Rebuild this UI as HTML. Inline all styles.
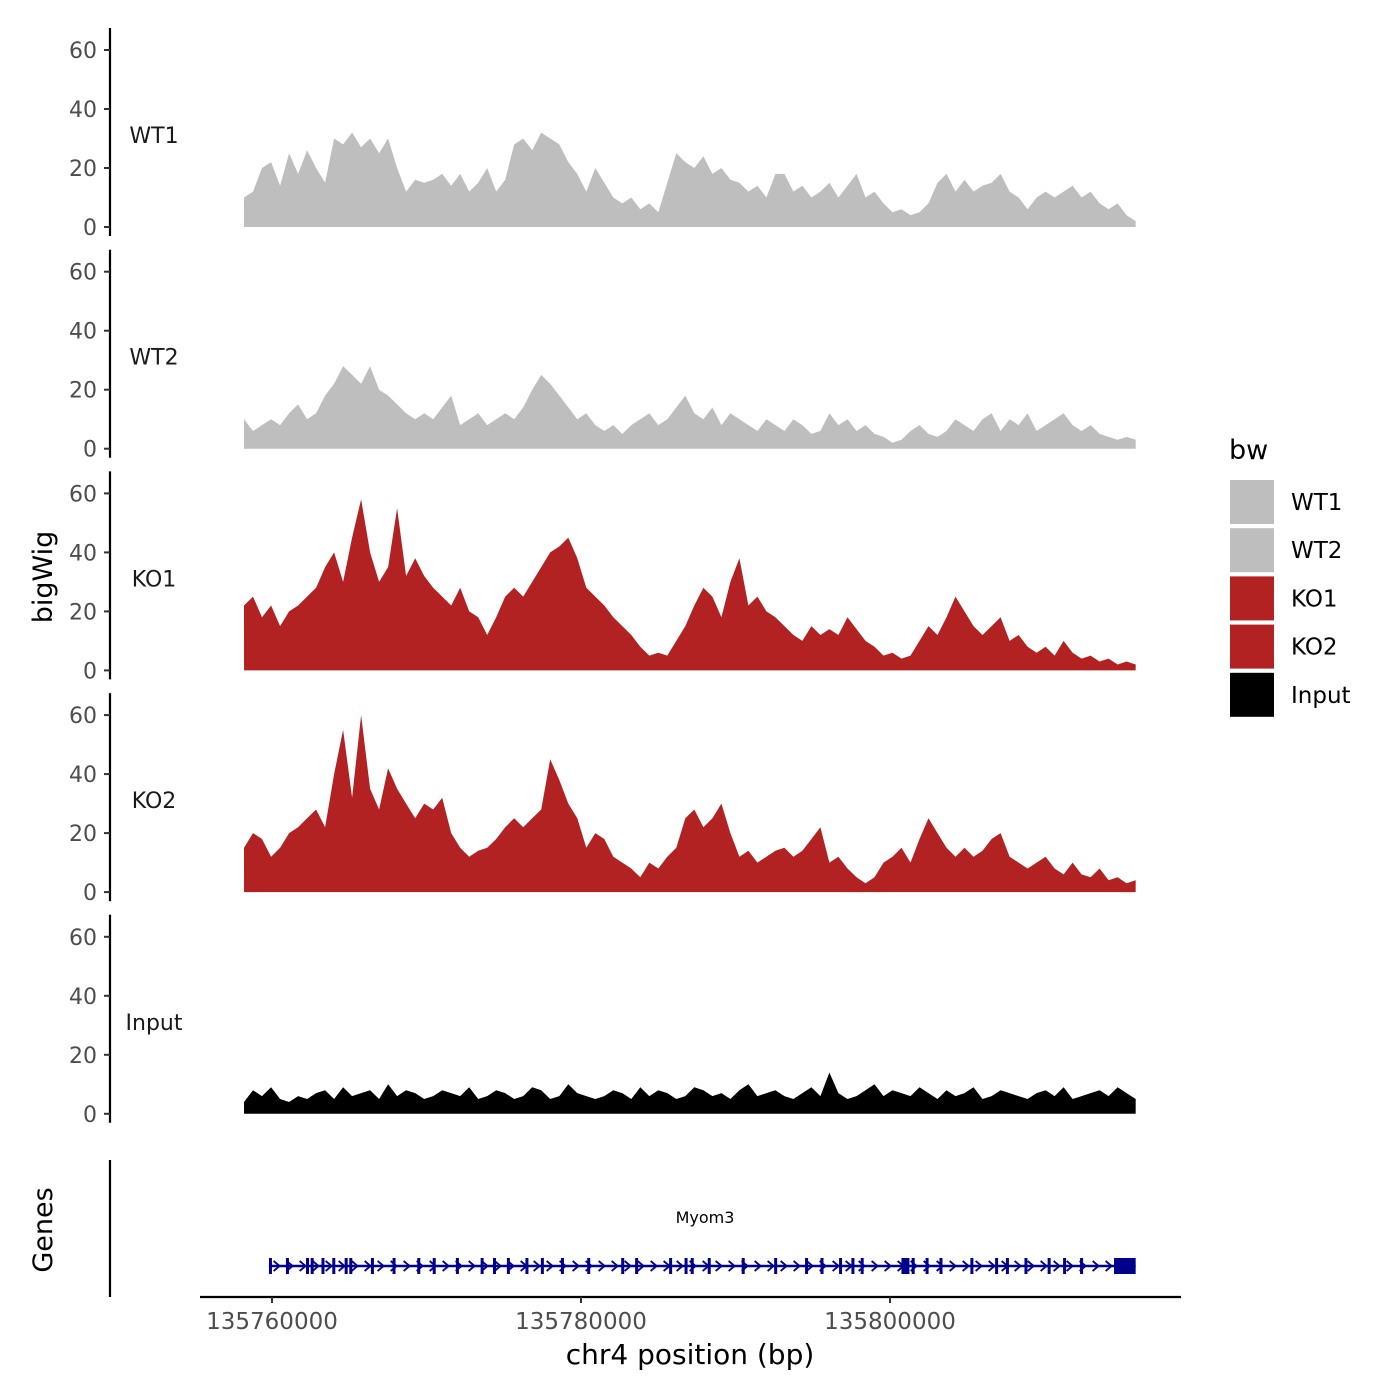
<!DOCTYPE html>
<html><head><meta charset="utf-8"><style>
body{margin:0;background:#fff}
svg{display:block;font-family:"DejaVu Sans","Liberation Sans",sans-serif}
</style></head><body>
<svg id="c" width="1400" height="1400" viewBox="0 0 1400 1400"></svg>
<script>
const tracks=["WT1","WT2","KO1","KO2","Input"];
const colors=["#bebebe","#bebebe","#b22222","#b22222","#000000"];
const yTicks=[0,20,40,60];
const xTicks=[135760000,135780000,135800000];
const xStart=135758190, xEnd=135815900;
const wt1=[10,12,20,22,14,25,18,26,20,15,30,28,32,27,30,25,30,20,12,16,15,16,18,14,18,12,15,20,12,16,28,30,26,32,30,28,22,18,12,20,15,10,8,10,6,8,5,15,25,22,20,24,18,20,16,15,12,14,10,18,18,12,14,10,12,15,10,14,18,10,12,8,5,6,4,5,8,15,18,12,16,12,14,15,18,12,10,6,10,12,10,12,14,10,12,8,6,8,4,2];
const wt2=[10,6,8,10,8,12,15,10,12,18,22,28,25,22,28,20,18,15,12,10,12,10,14,18,8,10,12,8,10,12,10,14,20,25,22,18,14,10,12,8,6,8,5,8,10,12,8,10,14,18,12,10,14,8,12,10,8,6,10,8,6,10,8,5,6,12,8,10,6,8,5,4,2,3,6,8,5,4,6,10,8,6,10,12,6,10,8,12,6,8,10,12,8,6,8,5,4,3,4,3];
const ko1=[22,25,18,22,15,20,22,25,28,35,40,30,45,58,40,30,35,55,32,38,32,28,25,22,28,20,18,12,18,25,28,25,30,35,40,42,45,38,28,25,22,18,15,12,8,5,6,5,10,15,22,28,25,18,30,38,22,25,20,18,15,12,10,15,12,14,12,18,14,10,8,5,6,4,5,10,15,12,18,25,20,15,12,15,18,10,12,8,6,8,5,10,6,4,5,3,4,2,3,2];
const ko2=[15,20,18,12,15,20,22,25,28,22,40,55,32,60,35,28,42,35,30,25,30,28,32,20,15,12,14,15,18,22,25,22,25,28,45,38,30,25,15,20,18,12,10,8,5,10,8,12,15,25,28,22,25,30,20,12,14,10,12,14,15,12,14,18,22,10,12,8,5,3,5,10,12,15,10,18,25,20,15,12,15,12,14,18,20,12,10,8,10,12,8,6,10,6,5,8,4,5,3,4];
const inp=[4,8,6,9,5,4,6,5,7,8,5,9,6,7,8,5,10,6,8,7,5,6,8,7,6,9,5,6,8,7,5,6,9,8,5,6,10,7,6,5,6,8,7,5,9,6,8,7,5,6,9,8,6,7,5,8,10,6,7,8,6,5,7,9,6,14,7,5,6,8,10,6,8,7,6,9,7,5,8,6,7,9,5,6,8,7,6,5,7,8,6,9,5,6,7,8,6,9,7,5];
const series=[wt1,wt2,ko1,ko2,inp];
const exons=[135759900,135761000,135762300,135762600,135763300,135764000,135764800,135765100,135766500,135767900,135769500,135770500,135772000,135773600,135774400,135775300,135776500,135777500,135778800,135780500,135782700,135783600,135785800,135786800,135787200,135788300,135790500,135792600,135794600,135795600,135796800,135797600,135798200,135801000,135801500,135802400,135803300,135805300,135806900,135807600,135808800,135810300,135811300,135812400];
const ns="http://www.w3.org/2000/svg";
const svg=document.getElementById('c');
function el(t,a,p){const e=document.createElementNS(ns,t);for(const k in a)e.setAttribute(k,a[k]);(p||svg).appendChild(e);return e;}
function X(bp){return 272+(bp-135760000)*309/20000;}
const zero0=227, step=221.7, ppu=2.95;
tracks.forEach((name,t)=>{
  const base=zero0+t*step;
  const Y=v=>base-v*ppu;
  const g=el('g',{});
  
  
  const vals=series[t];
  const n=vals.length;
  const xs=i=>X(xStart+(xEnd-xStart)*i/(n-1));
  let d='M'+xs(0)+','+base;
  vals.forEach((v,i)=>{d+=' L'+xs(i).toFixed(1)+','+Y(v).toFixed(1);});
  d+=' L'+xs(n-1)+','+base+' Z';
  const a=el('path',{d:d,fill:colors[t]},g);
  
  
  const ax=el('line',{x1:110,x2:110,y1:base-199,y2:base+9,stroke:'#000','stroke-width':2.2},g);
  
  
  yTicks.forEach(v=>{
    el('line',{x1:104,x2:110,y1:Y(v),y2:Y(v),stroke:'#333','stroke-width':2},g);
    const tx=el('text',{x:97,y:Y(v)+8,'text-anchor':'end','font-size':22,fill:'#4d4d4d'},g);
    tx.textContent=v;
    
    
  });
  const lb=el('text',{x:154,y:base-84,'text-anchor':'middle','font-size':22,fill:'#1a1a1a'},g);
  lb.textContent=name;
  
  
});
el('line',{x1:110,x2:110,y1:1160,y2:1297,stroke:'#000','stroke-width':2.2});
el('line',{x1:200,x2:1181,y1:1297,y2:1297,stroke:'#000','stroke-width':2.2});
const gl=el('line',{x1:X(135759800),x2:X(135815900),y1:1266,y2:1266,stroke:'#00008b','stroke-width':2.5});


for(let x=X(135760300);x<X(135814700);x+=13){
  el('path',{d:`M${x-3},${1261} L${x+3},${1266} L${x-3},${1271}`,fill:'none',stroke:'#00008b','stroke-width':1.8});
}
exons.forEach(bp=>{
  const r=el('rect',{x:X(bp)-1.5,y:1258,width:3,height:16,fill:'#00008b'});
  
  
});
el('rect',{x:X(135801000)-4,y:1258,width:8,height:16,fill:'#00008b'});
el('rect',{x:X(135814500),y:1258,width:X(135815900)-X(135814500),height:16,fill:'#00008b'});
const gn=el('text',{x:705,y:1223,'text-anchor':'middle','font-size':16,fill:'#000'});gn.textContent='Myom3';
xTicks.forEach(v=>{
  el('line',{x1:X(v),x2:X(v),y1:1297,y2:1303,stroke:'#333','stroke-width':2});
  const t=el('text',{x:X(v),y:1329,'text-anchor':'middle','font-size':23,fill:'#4d4d4d'});
  t.textContent=v;
  
  
});
const xt=el('text',{x:690,y:1364,'text-anchor':'middle','font-size':28,fill:'#000'});xt.textContent='chr4 position (bp)';

const yt=el('text',{x:52,y:577,'text-anchor':'middle','font-size':27,fill:'#000',transform:'rotate(-90 52 577)'});yt.textContent='bigWig';

const gt=el('text',{x:52,y:1230,'text-anchor':'middle','font-size':27,fill:'#000',transform:'rotate(-90 52 1230)'});gt.textContent='Genes';

const lt=el('text',{x:1229,y:459,'font-size':27,fill:'#000'});lt.textContent='bw';

tracks.forEach((name,i)=>{
  const y=480+i*48.2;
  const r=el('rect',{x:1230,y:y,width:44,height:44,fill:colors[i]});
  
  
  const t=el('text',{x:1291,y:y+30,'font-size':23,fill:'#000'});
  t.textContent=name;
  
  
});
</script>
</body></html>
